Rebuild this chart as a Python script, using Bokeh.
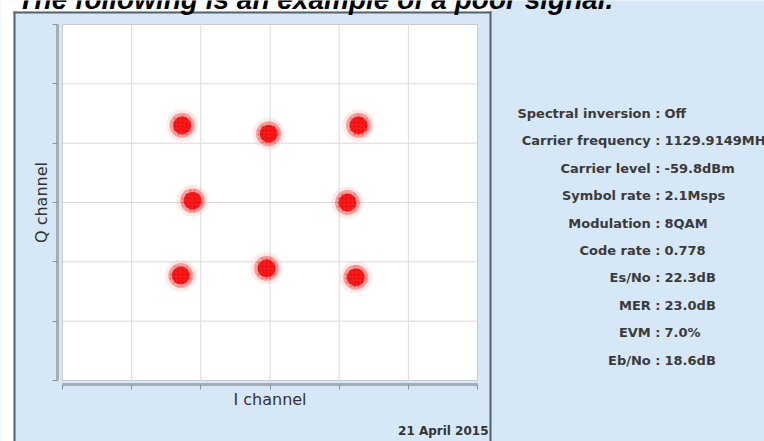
from bokeh.plotting import figure
from bokeh.models import (FixedTicker, Range1d, ColumnDataSource,
                          GlobalInlineStyleSheet, CustomJSTickFormatter)
from bokeh.core.properties import value
from bokeh.embed import file_html
from bokeh.resources import INLINE

# ---------------- data ----------------
cluster_i = [-1.27, -0.02, 1.28, -1.12, 1.12, -1.29, -0.05, 1.24]
cluster_q = [1.30, 1.16, 1.30, 0.03, 0.00, -1.23, -1.11, -1.26]
grid_ticks = [-3, -2, -1, 0, 1, 2, 3]
info_labels = ["Spectral inversion :", "Carrier frequency :", "Carrier level :",
               "Symbol rate :", "Modulation :", "Code rate :", "Es/No :",
               "MER :", "EVM :", "Eb/No :"]
info_values = ["Off", "1129.9149MHz", "-59.8dBm", "2.1Msps", "8QAM", "0.778",
               "22.3dB", "23.0dB", "7.0%", "18.6dB"]
title_text = "The following is an example of a poor signal."
date_text = "21 April 2015"
x_label = "I channel"
y_label = "Q channel"

# ---------------- layout (page pixels) ----------------
W, H = 764, 441
FL, FR, FT, FB = 62, 477, 24, 380          # white plot-area edges
BLUE = "#d6e8f8"
FRAME = "#56616b"
XS = (FR - FL) / 6.0
YS = (FB - FT) / 6.0


def X(px):
    return -3 + (px - FL) / XS


def Y(py):
    return 3 - (py - FT) / YS


p = figure(width=W, height=H,
           x_range=Range1d(X(0), X(W)), y_range=Range1d(Y(H), Y(0)),
           output_backend="svg", toolbar_location=None,
           min_border=0, min_border_left=0, min_border_right=0,
           min_border_top=0, min_border_bottom=0)
p.stylesheets = [GlobalInlineStyleSheet(
    css="html, body { margin: 0 !important; padding: 0; overflow: hidden; }")]
p.border_fill_color = BLUE
p.background_fill_color = BLUE
p.outline_line_color = None
p.grid.visible = False

# page decorations
p.quad(left=[X(0), X(0)], right=[X(490), X(13)], top=[Y(-5), Y(-5)],
       bottom=[Y(11), Y(H + 5)], fill_color="white", line_color=None)
p.quad(left=[X(13), X(13), X(489)], right=[X(15), X(491), X(491)],
       top=[Y(11), Y(11), Y(11)], bottom=[Y(H + 5), Y(13), Y(H + 5)],
       fill_color=FRAME, line_color=None)

# white plot area
p.quad(left=[-3], right=[3], top=[3], bottom=[-3], fill_color="white",
       line_color="#c9cdd2", line_width=1)

# grid lines
p.segment(x0=grid_ticks[1:-1], x1=grid_ticks[1:-1], y0=[-3] * 5, y1=[3] * 5,
          line_color="#dadada", line_width=1)
p.segment(x0=[-3] * 5, x1=[3] * 5, y0=grid_ticks[1:-1], y1=grid_ticks[1:-1],
          line_color="#dadada", line_width=1)

# axes placed at the edges of the plot area
for ax in (p.xaxis[0], p.yaxis[0]):
    ax.ticker = FixedTicker(ticks=grid_ticks)
    ax.formatter = CustomJSTickFormatter(code="return ''")
    ax.major_label_text_color = None
    ax.major_label_standoff = 0
    ax.bounds = (-3, 3)
    ax.minor_tick_line_color = None
    ax.major_tick_in = 0
    ax.major_tick_out = 5
    ax.major_tick_line_color = "#8a949c"
    ax.axis_line_color = "#a4aeb6"
    ax.axis_line_width = 3
    ax.axis_label_text_font = "DejaVu Sans"
    ax.axis_label_text_font_size = "16px"
    ax.axis_label_text_font_style = "normal"
    ax.axis_label_text_color = "#333333"
p.xaxis.fixed_location = Y(384)
p.yaxis.fixed_location = X(57)
p.xaxis.axis_label = x_label
p.yaxis.axis_label = y_label
p.xaxis.axis_label_standoff = 0
p.yaxis.axis_label_standoff = 2

# constellation clusters (fuzzy blobs)
src = ColumnDataSource(dict(i=cluster_i, q=cluster_q))
p.scatter("i", "q", source=src, size=32, fill_color="#ffa0a0", fill_alpha=0.22,
          line_color=None)
p.scatter("i", "q", source=src, size=25, fill_color="#ff4040", fill_alpha=0.45,
          line_color=None)
p.scatter("i", "q", source=src, size=18, fill_color="#ff0000", fill_alpha=0.85,
          line_color=None)
p.scatter("i", "q", source=src, size=22, fill_alpha=0.0, line_color=None,
          hatch_pattern="dot", hatch_color="#7a0000", hatch_alpha=0.35,
          hatch_scale=4)

# texts
p.text(x=[X(17)], y=[Y(-1)], text=[title_text], text_font=value("Liberation Sans"),
       text_font_size="28px", text_font_style="bold italic", text_color="black",
       text_baseline="alphabetic", text_align="left")
p.text(x=[X(488)], y=[Y(430)], text=[date_text], text_font=value("DejaVu Sans"),
       text_font_size="12px", text_font_style="bold", text_color="#333333",
       text_baseline="middle", text_align="right")

rows_y = [Y(113 + k * 27.4) for k in range(len(info_labels))]
info_src = ColumnDataSource(dict(lab=info_labels, val=info_values, y=rows_y,
                                 xl=[X(660)] * len(info_labels),
                                 xv=[X(664)] * len(info_labels)))
p.text(x="xl", y="y", text="lab", source=info_src, text_font=value("DejaVu Sans"),
       text_font_size="13px", text_font_style="bold", text_color="#3a3a3a",
       text_align="right", text_baseline="middle")
p.text(x="xv", y="y", text="val", source=info_src, text_font=value("DejaVu Sans"),
       text_font_size="13px", text_font_style="bold", text_color="#3a3a3a",
       text_align="left", text_baseline="middle")

open("out.html", "w").write(file_html(p, INLINE))
